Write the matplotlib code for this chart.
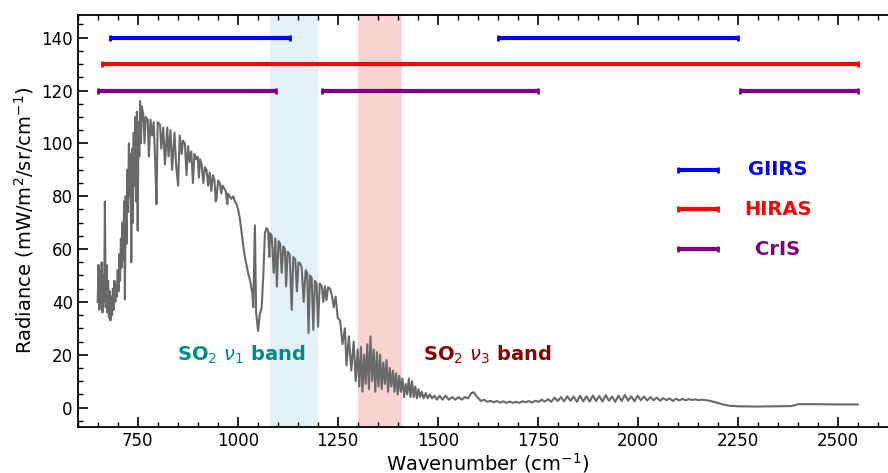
import numpy as np
import matplotlib.pyplot as plt
from matplotlib.ticker import MultipleLocator

# Radiance spectrum (wavenumber cm-1, radiance mW/m2/sr/cm-1)
wn_co2 = [650, 652, 654, 656, 658, 660, 662, 664, 666, 668, 670, 672, 674, 676, 678,
          680, 682, 684, 686, 688, 690, 692, 694, 696, 698, 700, 702, 704, 706, 708,
          710, 712, 714, 716, 718, 720, 722, 724, 726, 728, 730, 732, 734, 736, 738,
          740, 742, 744, 746, 748, 750, 752, 754, 756, 758, 760]
rad_co2 = [40, 54, 37, 52, 38, 55, 36, 50, 40, 78, 38, 54, 36, 48, 34,
           44, 33, 42, 35, 45, 37, 48, 40, 46, 42, 52, 44, 58, 48, 64,
           53, 70, 56, 78, 41, 80, 62, 90, 74, 100, 80, 96, 55, 98, 70,
           104, 84, 110, 78, 112, 67, 108, 95, 116, 100, 114]

wn_win = [764, 767, 770, 775, 778, 782, 786, 790, 794, 797, 800, 806, 809, 814, 818,
          824, 827, 832, 836, 842, 846, 851, 855, 860, 863, 868, 872, 876, 880, 884,
          888, 892, 896, 900, 903, 906, 910, 914, 918, 922, 926, 930, 934, 938, 942,
          945, 947, 951, 955, 959, 962, 966, 970, 974, 976, 980, 984, 989, 993, 997]
rad_win = [111, 100, 110, 109, 95, 109, 103, 108, 92, 77, 108, 107, 98, 106, 92,
           106, 95, 105, 90, 104, 92, 84, 103, 96, 101, 100, 88, 99, 93, 97,
           85, 96, 94, 95, 87, 94, 92, 85, 91, 90, 84, 89, 82, 88, 86,
           78, 79, 86, 85, 81, 84, 83, 82, 77, 81, 80, 79, 80, 78, 77]

wn_o3 = [1001, 1005, 1010, 1014, 1018, 1022, 1026, 1031, 1036, 1039, 1043, 1046, 1051,
         1055, 1060, 1064, 1068, 1072]
rad_o3 = [75, 72, 66, 61, 57, 54, 51, 48, 44, 38, 69, 36, 29,
          35, 38, 50, 66, 68]

wn_so2v1 = [1076, 1079, 1081, 1085, 1090, 1094, 1098, 1102, 1106, 1110, 1114, 1118, 1121,
            1125, 1130, 1135, 1139, 1144, 1148, 1152, 1156, 1160, 1165, 1170, 1174, 1177,
            1181, 1185, 1189, 1193, 1197, 1201, 1205, 1210, 1214, 1218, 1222, 1226, 1231]
rad_so2v1 = [67, 57, 66, 65, 51, 64, 45.8, 63, 62, 51, 61, 60, 45.8,
             59, 58, 37, 57, 56, 44, 55, 54.6, 53, 40, 52, 51, 28.2,
             50, 49, 29.4, 48, 47, 30.6, 47, 46, 40, 46, 40.7, 45.5, 45]

wn_mid = [1236, 1240, 1245, 1250, 1256, 1262, 1268, 1272, 1278, 1284, 1290, 1295, 1300]
rad_mid = [42, 38, 42, 34, 33, 24, 30, 16, 27, 14, 25, 10, 22]

wn_so2v3 = [1304, 1308, 1312, 1316, 1320, 1324, 1328, 1332, 1336, 1340, 1344, 1348, 1352,
            1356, 1360, 1364, 1368, 1372, 1376, 1380, 1384, 1388, 1392, 1396, 1400, 1404,
            1408, 1412, 1416, 1420, 1424, 1428, 1432, 1436, 1440, 1444, 1448, 1452, 1456,
            1460, 1465, 1470, 1475, 1480, 1486, 1492, 1498, 1505]
rad_so2v3 = [8, 23, 6, 20, 9, 24, 7, 27, 10, 22, 6, 21, 8,
             20, 7, 17, 9, 18, 6, 15, 8, 14, 6, 13, 5, 12,
             6, 11, 4, 9, 5, 11, 4, 10, 4, 8, 3.5, 7, 4,
             6, 3.5, 5.5, 3.5, 5, 3.5, 4.5, 3, 4.5]

wn_h2o = [1512, 1520, 1528, 1536, 1544, 1552, 1560, 1568, 1576, 1584, 1590, 1596, 1602,
          1608, 1616, 1624, 1632, 1640, 1648, 1656, 1664, 1672, 1680, 1688, 1696, 1704,
          1712, 1720, 1728, 1736, 1744, 1752, 1760, 1768, 1776, 1784, 1792, 1800, 1808,
          1816, 1824, 1832, 1840, 1848, 1856, 1864, 1872, 1880, 1888, 1896, 1904, 1912,
          1920, 1928, 1936, 1944, 1952, 1960, 1968, 1976, 1984, 1992, 2000, 2008, 2016,
          2024, 2032, 2040, 2048, 2056, 2064, 2072, 2080, 2088, 2096, 2104, 2112, 2120,
          2128, 2136, 2144, 2152, 2160, 2170, 2180, 2190, 2200]
rad_h2o = [3, 4.5, 3, 4, 3, 4, 3, 4, 3.5, 5.5, 5.8, 4.5, 3.5,
           2.5, 3, 2.2, 2.6, 2, 2.5, 1.9, 2.4, 1.8, 2.3, 1.8, 2.2, 1.8,
           2.4, 2, 2.5, 1.9, 2.6, 2.2, 3, 2.3, 3.2, 2.2, 3.8, 2.5, 4,
           2.4, 4.3, 2.6, 4.2, 2.2, 4.5, 2.4, 4.3, 2.3, 4.6, 2.5, 4.4, 2.3,
           4.7, 2.6, 4.2, 2.2, 4.5, 2.5, 4.8, 2.6, 4.3, 2.4, 4.5, 2.8, 4.2,
           2.7, 4, 2.8, 3.8, 2.6, 3.6, 2.8, 3.5, 2.5, 3.4, 2.7, 3.3, 2.8,
           3.2, 2.9, 3.1, 2.8, 3.0, 2.8, 2.6, 2.2, 1.8]

wn_tail = [2210, 2220, 2230, 2240, 2250, 2300, 2350, 2385, 2395, 2400, 2450, 2500, 2550]
rad_tail = [1.3, 1.0, 0.7, 0.6, 0.5, 0.4, 0.5, 0.6, 1.0, 1.3, 1.3, 1.2, 1.2]

wavenumber = wn_co2 + wn_win + wn_o3 + wn_so2v1 + wn_mid + wn_so2v3 + wn_h2o + wn_tail
radiance = rad_co2 + rad_win + rad_o3 + rad_so2v1 + rad_mid + rad_so2v3 + rad_h2o + rad_tail

# Instrument spectral coverage
giirs_ranges = [(680, 1130), (1650, 2250)]
hiras_ranges = [(660, 2550)]
cris_ranges = [(650, 1095), (1210, 1750), (2255, 2550)]
instruments = ['GIIRS', 'HIRAS', 'CrIS']
inst_colors = ['blue', 'red', 'purple']
inst_levels = [140, 130, 120]

# SO2 band regions
so2_v1 = (1080, 1200)
so2_v3 = (1300, 1410)

fig = plt.figure(figsize=(8.88, 4.73), dpi=100)
ax = fig.add_axes([0.0875, 0.098, 0.9234, 0.8704])

ax.axvspan(*so2_v1, color='lightblue', alpha=0.35, lw=0)
ax.axvspan(*so2_v3, color='lightcoral', alpha=0.35, lw=0)

ax.plot(wavenumber, radiance, color='dimgray', lw=1.5)

def coverage(ranges, y, color):
    for lo, hi in ranges:
        ax.errorbar((lo + hi) / 2, y, xerr=(hi - lo) / 2, color=color,
                    elinewidth=3, capsize=2.5, capthick=2, fmt='none')

for ranges, y, c in zip([giirs_ranges, hiras_ranges, cris_ranges], inst_levels, inst_colors):
    coverage(ranges, y, c)

# hand-made legend
legend_y = [90, 75, 60]
for name, c, y in zip(instruments, inst_colors, legend_y):
    coverage([(2100, 2200)], y, c)
    ax.text(2350, y, name, color=c, fontsize=14, fontweight='bold', ha='center', va='center')

ax.text(1010, 20, r'SO$_2$ $\nu_1$ band', color='darkcyan', fontsize=14,
        fontweight='bold', ha='center', va='center')
ax.text(1625, 20, r'SO$_2$ $\nu_3$ band', color='darkred', fontsize=14,
        fontweight='bold', ha='center', va='center')

ax.set_xlim(600, 2650)
ax.set_ylim(-7.2, 148.6)
ax.xaxis.set_major_locator(MultipleLocator(250))
ax.xaxis.set_minor_locator(MultipleLocator(50))
ax.yaxis.set_major_locator(MultipleLocator(20))
ax.yaxis.set_minor_locator(MultipleLocator(5))
ax.tick_params(which='both', direction='in', top=True, right=True, labelsize=12)
ax.tick_params(which='major', length=7, width=1.2)
ax.tick_params(which='minor', length=3.5, width=1)
for s in ax.spines.values():
    s.set_linewidth(1.3)

ax.set_xlabel(r'Wavenumber (cm$^{-1}$)', fontsize=14, labelpad=1)
ax.set_ylabel(r'Radiance (mW/m$^2$/sr/cm$^{-1}$)', fontsize=14, labelpad=4)

fig.savefig('out.png', dpi=100)
